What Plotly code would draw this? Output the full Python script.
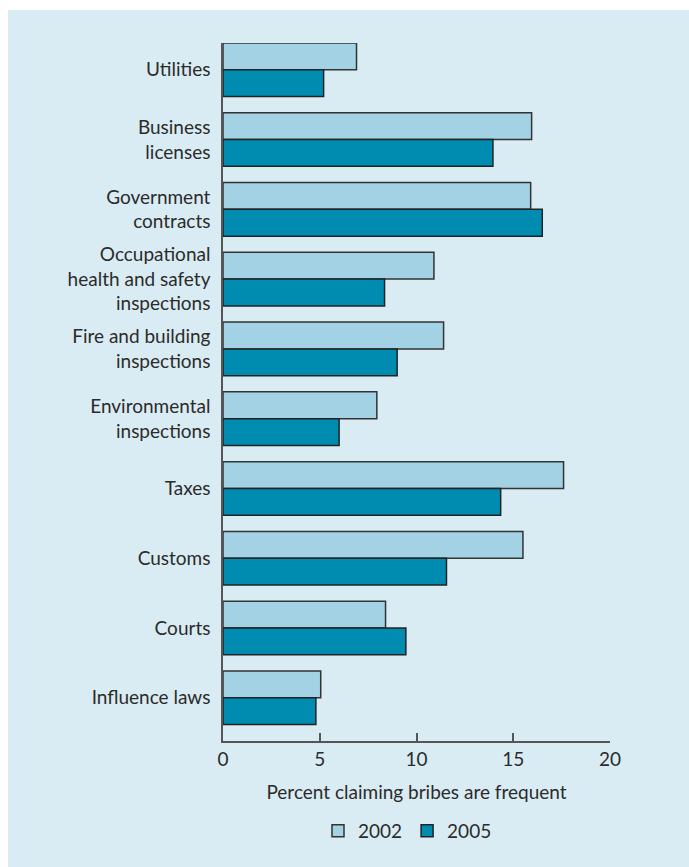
import plotly.graph_objects as go

categories = [
    "Utilities",
    "Business<br>licenses",
    "Government<br>contracts",
    "Occupational<br>health and safety<br>inspections",
    "Fire and building<br>inspections",
    "Environmental<br>inspections",
    "Taxes",
    "Customs",
    "Courts",
    "Influence laws",
]
values_2002 = [6.9, 15.95, 15.9, 10.9, 11.4, 7.95, 17.6, 15.5, 8.4, 5.05]
values_2005 = [5.2, 13.95, 16.5, 8.35, 9.0, 6.0, 14.35, 11.55, 9.45, 4.8]
x_ticks = [0, 5, 10, 15, 20]

FONT = "Lato"
FS = 19
TXT = "#2b2b2b"
PANEL = "#daecf3"

fig = go.Figure()
fig.add_trace(go.Bar(
    y=categories, x=values_2002, orientation="h", name="2002",
    marker=dict(color="#a3d2e5", line=dict(color="#333333", width=1.5)),
))
fig.add_trace(go.Bar(
    y=categories, x=values_2005, orientation="h", name="2005",
    marker=dict(color="#008bb0", line=dict(color="#222222", width=1.5)),
))

L, R, T, B = 223, 79, 43, 126
W, H = 689, 867
pw = W - L - R
ph = H - T - B

def px_x(px):
    return (px - L) / pw

def px_y(py):
    return (H - B - py) / ph

fig.add_shape(type="rect", xref="paper", yref="paper",
              x0=px_x(8), x1=px_x(W + 5), y0=px_y(10), y1=px_y(H + 5),
              fillcolor=PANEL, line=dict(width=0), layer="below")

fig.update_layout(
    width=W, height=H,
    margin=dict(l=L, r=R, t=T, b=B, pad=0),
    paper_bgcolor="white",
    plot_bgcolor="rgba(0,0,0,0)",
    barmode="group",
    bargap=0.232,
    bargroupgap=0,
    font=dict(family=FONT, size=FS, color=TXT),
    showlegend=True,
    legend=dict(orientation="h", x=px_x(407.5), xanchor="center", y=px_y(831), yanchor="middle",
                font=dict(size=FS, color=TXT), bgcolor="rgba(0,0,0,0)",
                itemwidth=30, traceorder="normal"),
    xaxis=dict(
        range=[0, 20], tickvals=x_ticks, ticktext=[str(v) for v in x_ticks],
        showgrid=False, zeroline=False, showline=True, linecolor="#555555", linewidth=1.5,
        ticks="inside", ticklen=8, tickwidth=1.5, tickcolor="#555555",
        tickfont=dict(size=FS, color=TXT),
        title=dict(text="Percent claiming bribes are frequent", font=dict(size=FS, color=TXT), standoff=17),
    ),
    yaxis=dict(
        type="category", categoryorder="array", categoryarray=categories,
        range=[9.62, -0.384],
        showgrid=False, zeroline=False, showline=True, linecolor="#555555", linewidth=1.5,
        ticks="", ticklabelstandoff=7,
        tickfont=dict(size=FS, color=TXT),
    ),
)

fig.write_html("out.html", config={"displayModeBar": False},
               post_script="document.body.style.margin='0';document.body.style.padding='0';")
